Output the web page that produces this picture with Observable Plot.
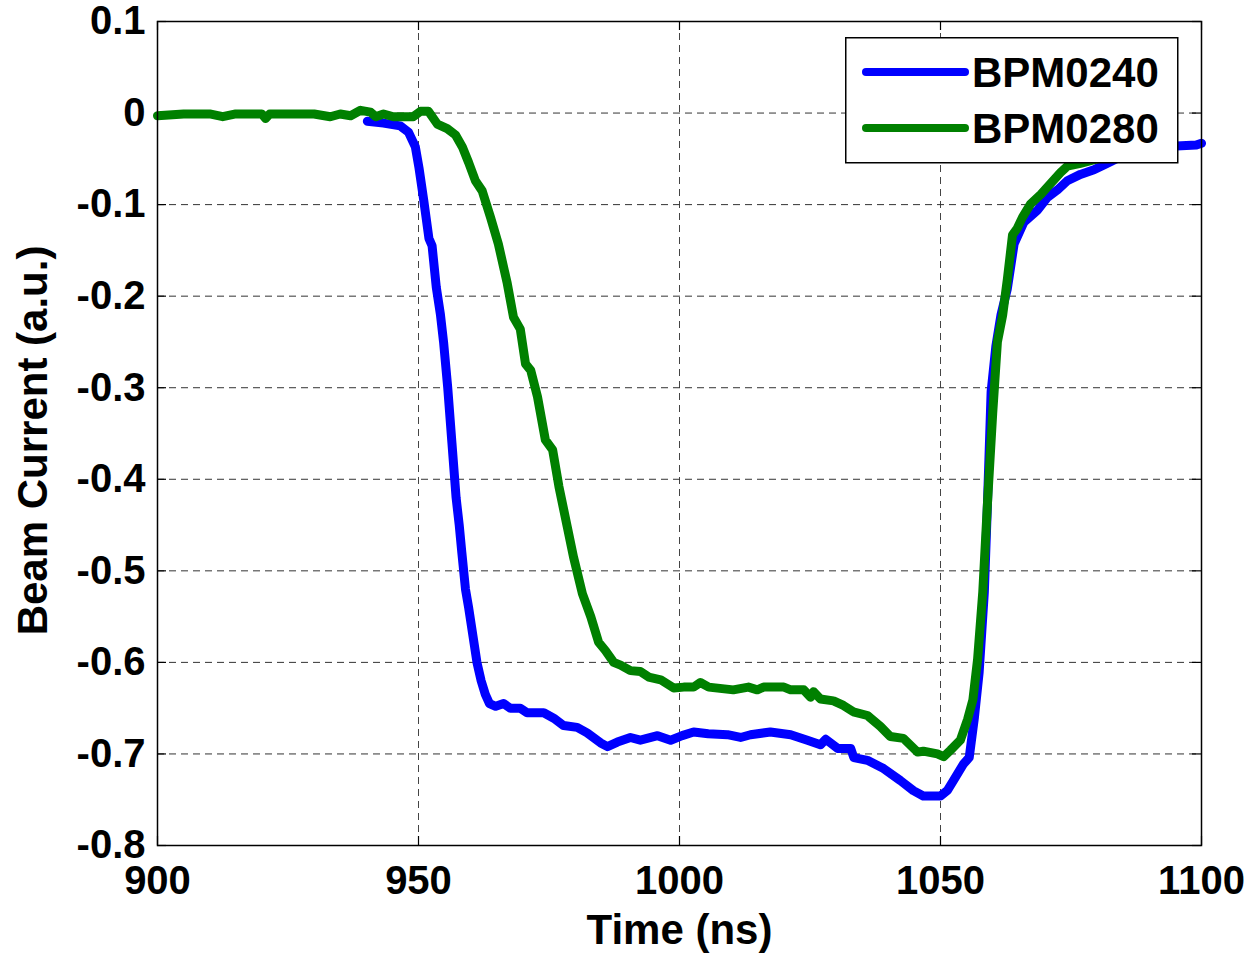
<!DOCTYPE html>
<html>
<head>
<meta charset="utf-8">
<script src="https://cdn.jsdelivr.net/npm/d3@7"></script>
<script src="https://cdn.jsdelivr.net/npm/@observablehq/plot@0.6"></script>
<style>
  html, body { margin: 0; padding: 0; background: #fff; }
  #wrap { position: relative; width: 1255px; height: 957px; }
  #legend { position: absolute; left: 845px; top: 37px; }
</style>
</head>
<body>
<div id="wrap"><div id="chart"></div><div id="legend"></div></div>
<script>
// ---- data ----
const seriesNames = ["BPM0240", "BPM0280"];
const seriesColors = ["#0000ff", "#008000"];

const bpm0240Time = [940.2, 943.3, 946.5, 948.1, 949.4, 950.1, 951.0, 952.0, 952.6, 953.4, 954.2, 954.8, 955.6, 956.4, 957.2, 957.8, 958.3, 959.0, 959.6, 960.4, 961.2, 962.0, 962.8, 963.6, 964.8, 966.3, 967.6, 969.5, 970.8, 974.0, 975.9, 977.8, 980.4, 982.3, 984.9, 986.2, 988.1, 990.6, 992.5, 995.8, 998.3, 1000.5, 1002.7, 1005.5, 1009.2, 1011.7, 1013.6, 1017.4, 1021.3, 1024.5, 1027.0, 1028.0, 1030.3, 1032.8, 1033.4, 1036.0, 1039.1, 1042.3, 1044.8, 1046.7, 1050.0, 1051.3, 1052.5, 1054.4, 1055.5, 1056.5, 1057.4, 1058.4, 1059.0, 1059.7, 1060.6, 1061.6, 1062.8, 1064.1, 1066.0, 1068.6, 1070.5, 1072.4, 1074.3, 1076.8, 1079.4, 1081.9, 1084.4, 1088.0, 1092.0, 1095.2, 1099.0, 1100.0];
const bpm0240Value = [-0.009, -0.011, -0.014, -0.021, -0.037, -0.060, -0.095, -0.137, -0.145, -0.190, -0.220, -0.250, -0.300, -0.360, -0.420, -0.450, -0.480, -0.520, -0.540, -0.570, -0.600, -0.620, -0.635, -0.645, -0.648, -0.645, -0.650, -0.650, -0.655, -0.655, -0.661, -0.669, -0.671, -0.677, -0.688, -0.692, -0.687, -0.682, -0.685, -0.680, -0.685, -0.680, -0.676, -0.678, -0.679, -0.682, -0.679, -0.676, -0.679, -0.685, -0.690, -0.684, -0.694, -0.694, -0.704, -0.707, -0.716, -0.729, -0.740, -0.746, -0.746, -0.740, -0.729, -0.711, -0.704, -0.660, -0.611, -0.523, -0.426, -0.304, -0.255, -0.220, -0.192, -0.143, -0.119, -0.106, -0.092, -0.084, -0.074, -0.067, -0.062, -0.055, -0.048, -0.042, -0.038, -0.036, -0.035, -0.033];

const bpm0280Time = [900, 905, 910, 912.5, 915, 920, 920.7, 921.5, 930, 933.1, 935, 937, 938.9, 940.8, 941.8, 943.3, 945.2, 949.0, 950.4, 951.9, 953.6, 955.5, 957.1, 958.4, 959.6, 960.9, 962.2, 963.8, 965.3, 967.0, 968.2, 969.5, 970.5, 971.5, 972.8, 974.3, 975.7, 976.9, 978.5, 979.7, 981.4, 983.0, 984.5, 985.8, 987.4, 988.7, 990.6, 992.5, 994.1, 996.4, 998.9, 1000.8, 1002.7, 1004.0, 1005.6, 1010.3, 1013.2, 1014.9, 1016.1, 1020.0, 1021.3, 1023.8, 1025.1, 1025.7, 1027.0, 1029.5, 1031.4, 1033.3, 1036.0, 1038.5, 1040.4, 1042.9, 1045.6, 1046.7, 1049.4, 1050.6, 1051.9, 1053.8, 1055.2, 1056.2, 1057.1, 1058.1, 1059.0, 1060.0, 1060.9, 1061.9, 1062.8, 1063.8, 1064.7, 1065.7, 1067.3, 1069.2, 1071.1, 1073.0, 1074.3, 1076.8, 1080.0, 1083.0];
const bpm0280Value = [-0.003, -0.001, -0.001, -0.004, -0.001, -0.001, -0.006, -0.001, -0.001, -0.004, -0.001, -0.003, 0.003, 0.001, -0.004, -0.001, -0.004, -0.004, 0.002, 0.002, -0.012, -0.017, -0.024, -0.037, -0.054, -0.074, -0.085, -0.114, -0.143, -0.186, -0.223, -0.236, -0.274, -0.281, -0.310, -0.357, -0.368, -0.408, -0.452, -0.485, -0.525, -0.550, -0.578, -0.587, -0.600, -0.603, -0.609, -0.610, -0.616, -0.619, -0.628, -0.627, -0.627, -0.622, -0.627, -0.630, -0.627, -0.630, -0.627, -0.627, -0.630, -0.630, -0.638, -0.632, -0.640, -0.642, -0.647, -0.654, -0.658, -0.670, -0.681, -0.683, -0.698, -0.697, -0.700, -0.703, -0.696, -0.685, -0.662, -0.641, -0.597, -0.523, -0.426, -0.328, -0.250, -0.221, -0.182, -0.133, -0.126, -0.114, -0.099, -0.089, -0.077, -0.065, -0.058, -0.055, -0.050, -0.046];

const xTicks = [900, 950, 1000, 1050, 1100];
const yTicks = [0.1, 0, -0.1, -0.2, -0.3, -0.4, -0.5, -0.6, -0.7, -0.8];
const xLabel = "Time (ns)";
const yLabel = "Beam Current (a.u.)";

// ---- build ----
const rows = [];
bpm0240Time.forEach((t, i) => rows.push({series: seriesNames[0], t, v: bpm0240Value[i]}));
bpm0280Time.forEach((t, i) => rows.push({series: seriesNames[1], t, v: bpm0280Value[i]}));

const W = 1255, H = 957;
const mL = 157, mR = 54, mT = 21, mB = 112;
const plotW = W - mL - mR, plotH = H - mT - mB;
const tickLen = 9;
const fmtY = d => d === 0 ? "0" : d3.format(".1f")(d).replace("−", "-");

const chart = Plot.plot({
  width: W, height: H,
  marginLeft: mL, marginRight: mR, marginTop: mT, marginBottom: mB,
  style: {fontFamily: "'Liberation Sans', Arial, sans-serif", fontWeight: "bold", fontSize: "40px", background: "#fff", color: "#000", overflow: "visible"},
  x: {domain: [900, 1100]},
  y: {domain: [-0.8, 0.1]},
  color: {domain: seriesNames, range: seriesColors},
  marks: [
    Plot.gridX(xTicks.slice(1, -1), {stroke: "#444", strokeOpacity: 1, strokeWidth: 1, strokeDasharray: "7,5"}),
    Plot.gridY(yTicks.slice(1, -1), {stroke: "#333", strokeOpacity: 1, strokeWidth: 1, strokeDasharray: "7,5"}),
    Plot.ruleX(xTicks, {x: d => d, insetTop: plotH - tickLen, stroke: "#000", strokeWidth: 1.2}),
    Plot.ruleX(xTicks, {x: d => d, insetBottom: plotH - tickLen, stroke: "#000", strokeWidth: 1.2}),
    Plot.ruleY(yTicks, {y: d => d, insetRight: plotW - tickLen, stroke: "#000", strokeWidth: 1.2}),
    Plot.ruleY(yTicks, {y: d => d, insetLeft: plotW - tickLen, stroke: "#000", strokeWidth: 1.2}),
    Plot.line(rows, {x: "t", y: "v", z: "series", stroke: "series", strokeWidth: 9, strokeLinejoin: "round", strokeLinecap: "round"}),
    Plot.frame({stroke: "#000", strokeWidth: 1.5}),
    Plot.axisX(xTicks, {tickSize: 0, tickPadding: 20, fontSize: 40, fontWeight: "bold", label: null, tickFormat: d => String(d)}),
    Plot.axisY(yTicks, {tickSize: 0, tickPadding: 12, fontSize: 40, fontWeight: "bold", label: null, tickFormat: fmtY}),
    Plot.text([xLabel], {frameAnchor: "bottom", textAnchor: "middle", lineAnchor: "middle", dy: 85, fontSize: 42, fontWeight: "bold", fill: "#000"}),
    Plot.text([yLabel], {frameAnchor: "left", textAnchor: "middle", lineAnchor: "middle", rotate: -90, dx: -124, dy: 7, fontSize: 42, fontWeight: "bold", fill: "#000"})
  ]
});
document.getElementById("chart").appendChild(chart);

// ---- legend ----
const lg = d3.select("#legend").append("svg").attr("width", 334).attr("height", 127);
lg.append("rect").attr("x", 0.75).attr("y", 0.75).attr("width", 332).attr("height", 125)
  .attr("fill", "#fff").attr("stroke", "#000").attr("stroke-width", 1.5);
seriesNames.forEach((name, i) => {
  const cy = 35 + i * 56;
  lg.append("line").attr("x1", 21).attr("x2", 120).attr("y1", cy).attr("y2", cy)
    .attr("stroke", seriesColors[i]).attr("stroke-width", 8).attr("stroke-linecap", "round");
  lg.append("text").attr("x", 127).attr("y", cy).attr("dy", "0.36em")
    .attr("font-family", "'Liberation Sans', Arial, sans-serif").attr("font-weight", "bold")
    .attr("font-size", 42).attr("fill", "#000").text(name);
});
</script>
</body>
</html>
